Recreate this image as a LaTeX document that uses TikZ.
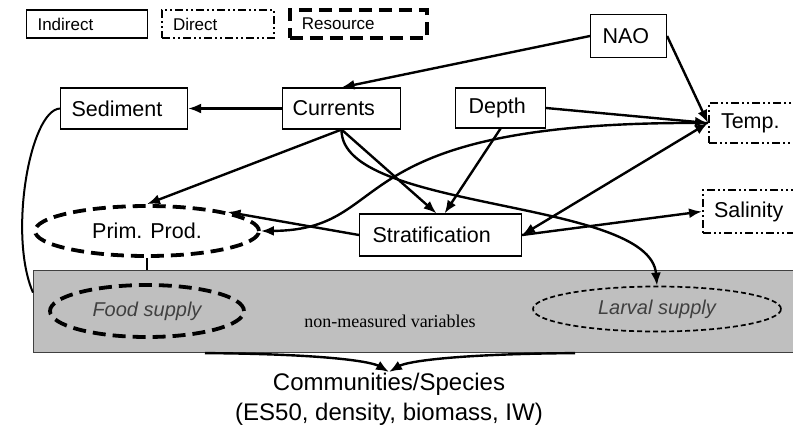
\documentclass[tikz,border=0pt]{standalone}
\usepackage{fontspec}
\setmainfont{Liberation Sans}
\newfontfamily\nmvfont{Liberation Serif}
\usetikzlibrary{shapes,arrows.meta}
\tikzstyle{line} = [draw, line width=2.4pt, -{Latex[length=13pt,width=10pt]}]
\tikzstyle{twoway} = [draw, line width=2.4pt, {Latex[length=13pt,width=10pt]}-{Latex[length=13pt,width=10pt]}]
\tikzstyle{plain} = [draw, line width=2pt]
\tikzstyle{box} = [draw, line width=1.1pt, rectangle, anchor=west, inner xsep=12pt, inner ysep=0pt, align=left, font=\fontsize{21.5}{25}\selectfont]
\tikzstyle{direct} = [box, line width=2pt, dash pattern=on 8pt off 3pt on 2pt off 3pt on 2pt off 3pt]
\tikzstyle{resource} = [draw, ellipse, line width=3.8pt, dash pattern=on 13pt off 7pt, font=\fontsize{21.5}{25}\selectfont]
\tikzstyle{legend} = [box, inner xsep=11pt, minimum height=28pt, font=\fontsize{17}{20}\selectfont]

\begin{document}
\begin{tikzpicture}[x=1pt,y=-1pt]
		\clip (0,0) rectangle (793,437);
		% legend
		\node[legend, text width=99pt] (lind) at (26,24) {Indirect};
		\node[legend, line width=2pt, dash pattern=on 8pt off 3pt on 2pt off 3pt on 2pt off 3pt, text width=90pt] (ldir) at (161,24) {Direct};
		\node[legend, line width=3.8pt, dash pattern=on 13pt off 7pt, inner xsep=12pt, text width=113pt] (lres) at (288,24) {Resource};
		% variables
		\node[box, minimum height=43pt, text width=52pt] (nao) at (590,36) {NAO};
		\node[box, minimum height=41pt, inner xsep=11pt, text width=105pt] (sed) at (60,108.5) {Sediment};
		\node[box, minimum height=41pt, inner xsep=10pt, text width=98pt] (cur) at (282,108.5) {Currents};
		\node[box, minimum height=40pt, inner xsep=13pt, text width=64pt] (dep) at (455,108) {Depth};
		\node[direct, minimum height=40pt, text width=76pt] (temp) at (708,123) {Temp.};
		\node[direct, minimum height=43pt, inner xsep=11pt, text width=78pt] (sal) at (702,211.5) {Salinity};
		\node[box, minimum height=42pt, inner xsep=13pt, text width=136pt] (str) at (359,235) {Stratification};
		\node[resource, minimum width=224pt, minimum height=50pt] (pp) at (147,231) {Prim. Prod.};
		% non-measured
		\node[draw=black!75, line width=1.1pt, fill=black!25, minimum width=780pt, minimum height=82pt, anchor=north west] (nm) at (33,270) {};
		\node[font=\nmvfont\fontsize{18}{22}\selectfont] (nmv) at (390,321) {non-measured variables};
		\node[resource, minimum width=194pt, minimum height=52pt, text=black!75, font=\fontsize{20}{24}\selectfont\itshape] (food) at (147,311) {Food supply};
		\node[draw, ellipse, line width=1.7pt, dash pattern=on 5pt off 3pt, minimum width=248pt, minimum height=45pt, text=black!75, font=\fontsize{20}{24}\selectfont\itshape] (lar) at (657,309) {Larval supply};
		\node[align=center, inner sep=1pt, anchor=north, font=\fontsize{24}{30}\selectfont] (com) at (389,372) {Communities/Species\\(ES50, density, biomass, IW)};
		% links
		\path[line] (nao.west) -- (cur.north);
		\path[line] (nao.east) -- (temp.west);
		\path[line] (dep.east) -- (temp.west);
		\path[line] (cur.west) -- (sed.east);
		\path[line] (cur.south) -- (pp.north);
		\path[line] (cur.south) -- ([xshift=-4pt]str.north);
		\path[line] (dep.south) -- ([xshift=4pt]str.north);
		\path[line] (cur.south) .. controls (340,212) and (650,198) .. (lar.north);
		\path[line] (temp.west) .. controls (330,120) and (400,230) .. (pp.east);
		\path[line] (str.west) -- (pp.north east);
		\path[twoway] (str.east) -- (temp.west);
		\path[line] (str.east) -- (sal.west);
		\path[plain] (sed.west) .. controls (30,110) and (8,235) .. ([yshift=19pt]nm.west);
		\path[plain] (pp.south) -- (pp.south |- nm.north);
		\path[line] ([xshift=172pt]nm.south west) .. controls (330,354) and (372,362) .. (com.north);
		\path[line] ([xshift=542pt]nm.south west) .. controls (450,354) and (406,362) .. (com.north);
	\end{tikzpicture}
\end{document}
